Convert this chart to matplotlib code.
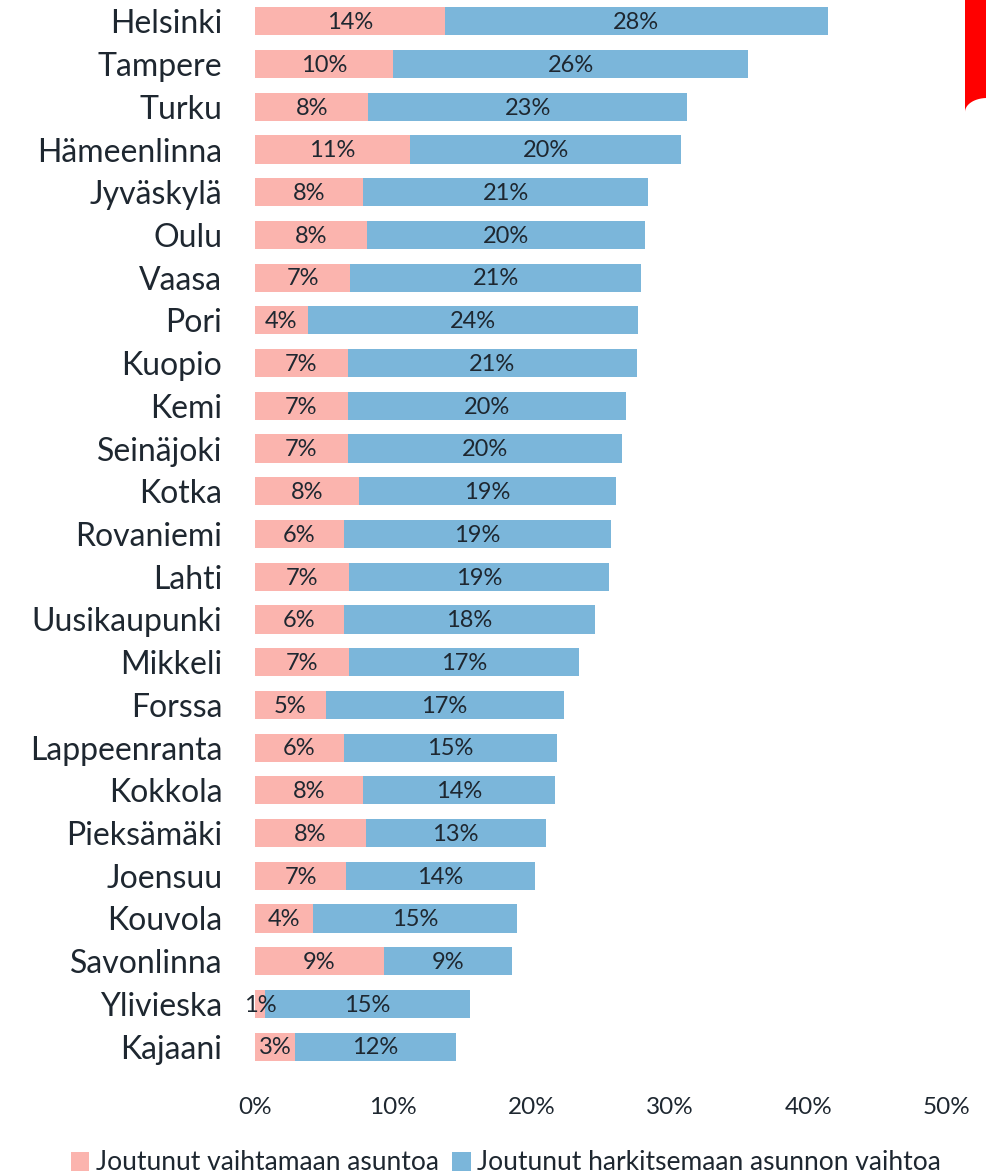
import numpy as np
import matplotlib.pyplot as plt
from matplotlib.patches import Polygon

# kaupungit ja osuudet (%)
cities = ['Helsinki', 'Tampere', 'Turku', 'Hämeenlinna', 'Jyväskylä', 'Oulu', 'Vaasa',
          'Pori', 'Kuopio', 'Kemi', 'Seinäjoki', 'Kotka', 'Rovaniemi', 'Lahti',
          'Uusikaupunki', 'Mikkeli', 'Forssa', 'Lappeenranta', 'Kokkola', 'Pieksämäki',
          'Joensuu', 'Kouvola', 'Savonlinna', 'Ylivieska', 'Kajaani']
vaihtanut = [13.7, 10.0, 8.2, 11.2, 7.8, 8.1, 6.9, 3.8, 6.7, 6.7, 6.7, 7.5, 6.4, 6.8,
             6.4, 6.8, 5.1, 6.4, 7.8, 8.0, 6.6, 4.2, 9.3, 0.7, 2.9]
harkinnut = [27.7, 25.6, 23.0, 19.6, 20.6, 20.1, 21.0, 23.9, 20.9, 20.1, 19.8, 18.6,
             19.3, 18.8, 18.2, 16.6, 17.2, 15.4, 13.9, 13.0, 13.6, 14.7, 9.3, 14.8, 11.6]
xticks = [0, 10, 20, 30, 40, 50]
series_names = ['Joutunut vaihtamaan asuntoa', 'Joutunut harkitsemaan asunnon vaihtoa']

pink = '#FBB4AE'
blue = '#7BB6DA'
txt = '#1E2730'

plt.rcParams['font.family'] = ['Lato', 'DejaVu Sans']

fig = plt.figure(figsize=(9.87, 11.74), dpi=100)
ax = fig.add_axes([255 / 987, 106 / 1174, 692 / 987, 1068 / 1174])

y = np.arange(len(cities))
a = np.array(vaihtanut)
b = np.array(harkinnut)
ax.barh(y, a, height=0.66, color=pink, label=series_names[0])
ax.barh(y, b, left=a, height=0.66, color=blue, label=series_names[1])

for i in range(len(cities)):
    ax.text(a[i] / 2, y[i] + 0.03, f'{round(a[i]):.0f}%', ha='center', va='center',
            fontsize=17, color=txt)
    ax.text(a[i] + b[i] / 2, y[i] + 0.03, f'{round(b[i]):.0f}%', ha='center', va='center',
            fontsize=17, color=txt)

ax.set_xlim(0, 50)
ax.set_ylim(len(cities) - 0.5, -0.5)
ax.set_yticks(y)
ax.set_yticklabels(cities, fontsize=23, color=txt)
ax.set_xticks(xticks)
ax.set_xticklabels([f'{t}%' for t in xticks], fontsize=17.5, color=txt)
ax.tick_params(axis='both', length=0)
ax.tick_params(axis='y', pad=23.5)
ax.tick_params(axis='x', pad=21)
for s in ax.spines.values():
    s.set_visible(False)

fig.legend(loc='center', bbox_to_anchor=(506 / 987, 1 - 1163 / 1174), ncol=2,
           frameon=False, fontsize=19, handlelength=0.7, handleheight=0.7,
           handletextpad=0.25, columnspacing=0.5, labelcolor=txt)

# punainen kulmakoriste
th = np.linspace(0, np.pi / 2, 20)
pts = [(965, 1174), (987, 1174), (987, 1174 - 98)]
pts += [(987 - 22 * np.sin(t), 1174 - 98 - 14 * (1 - np.cos(t))) for t in th]
pts += [(965, 1174 - 112)]
pts = [(px / 987, py / 1174) for px, py in pts]
fig.patches.append(Polygon(pts, closed=True, transform=fig.transFigure,
                           facecolor='#FF0000', edgecolor='none'))

fig.savefig('out.png', dpi=100)
